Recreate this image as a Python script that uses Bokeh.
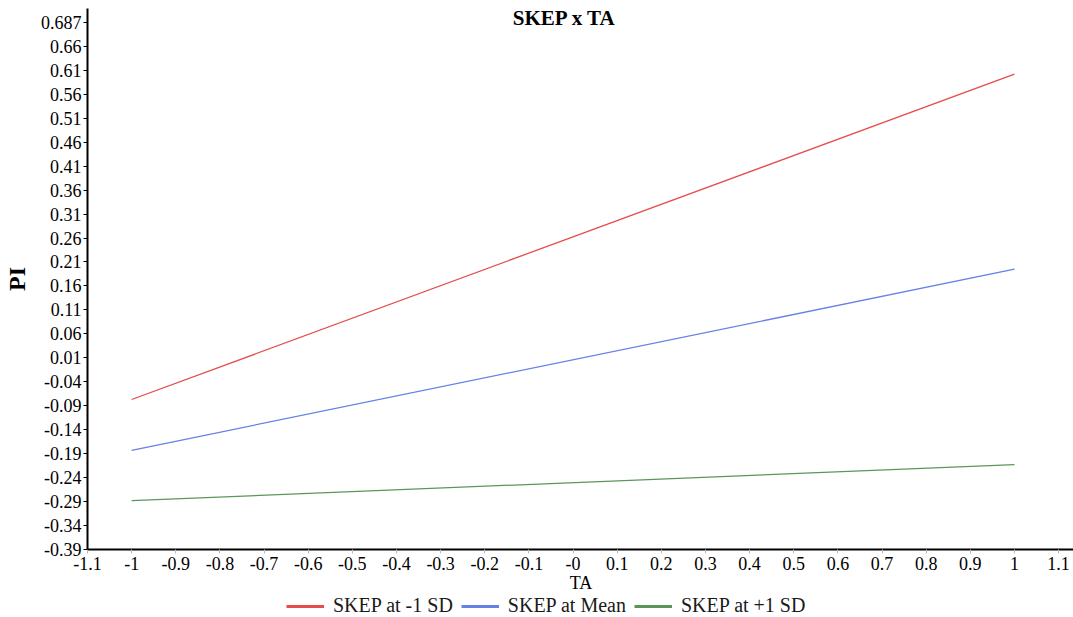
from bokeh.plotting import figure
from bokeh.layouts import column
from bokeh.models import FixedTicker, Range1d, Legend, LegendItem, Label
from bokeh.embed import file_html
from bokeh.resources import INLINE

# ---- data ----
ta = [-1.0, 1.0]
skep_low = [-0.077, 0.602]    # SKEP at -1 SD
skep_mean = [-0.183, 0.195]   # SKEP at Mean
skep_high = [-0.288, -0.213]  # SKEP at +1 SD

series_names = ["SKEP at -1 SD", "SKEP at Mean", "SKEP at +1 SD"]
series_colors = ["#e64c4c", "#6680e6", "#5a965a"]

x_ticks = [-1.1, -1.0, -0.9, -0.8, -0.7, -0.6, -0.5, -0.4, -0.3, -0.2, -0.1, 0.0,
           0.1, 0.2, 0.3, 0.4, 0.5, 0.6, 0.7, 0.8, 0.9, 1.0, 1.1]
x_tick_labels = ["-1.1", "-1", "-0.9", "-0.8", "-0.7", "-0.6", "-0.5", "-0.4", "-0.3", "-0.2",
                 "-0.1", "-0", "0.1", "0.2", "0.3", "0.4", "0.5", "0.6", "0.7", "0.8", "0.9",
                 "1", "1.1"]
# the top label (axis maximum 0.687) sits one even step above 0.66 in the source chart
y_ticks = [-0.39, -0.34, -0.29, -0.24, -0.19, -0.14, -0.09, -0.04, 0.01, 0.06, 0.11, 0.16,
           0.21, 0.26, 0.31, 0.36, 0.41, 0.46, 0.51, 0.56, 0.61, 0.66, 0.71]
y_tick_labels = ["-0.39", "-0.34", "-0.29", "-0.24", "-0.19", "-0.14", "-0.09", "-0.04", "0.01",
                 "0.06", "0.11", "0.16", "0.21", "0.26", "0.31", "0.36", "0.41", "0.46", "0.51",
                 "0.56", "0.61", "0.66", "0.687"]

FONT = "Liberation Serif"

p = figure(frame_width=987, frame_height=541, output_backend="svg", toolbar_location=None,
           x_range=Range1d(-1.1, 1.136), y_range=Range1d(-0.39, 0.739),
           min_border_left=86, min_border_right=0, min_border_top=8, min_border_bottom=0)
p.outline_line_color = None
p.xgrid.visible = False
p.ygrid.visible = False

series = [skep_low, skep_mean, skep_high]
for ys, c in zip(series, series_colors):
    p.line(ta, ys, line_color=c, line_width=1.3)

# axes
p.xaxis.ticker = FixedTicker(ticks=x_ticks)
p.xaxis.major_label_overrides = dict(zip(x_ticks, x_tick_labels))
p.yaxis.ticker = FixedTicker(ticks=y_ticks)
p.yaxis.major_label_overrides = dict(zip(y_ticks, y_tick_labels))
for ax in (p.xaxis, p.yaxis):
    ax.axis_line_color = "black"
    ax.axis_line_width = 2
    ax.major_label_text_font = FONT
    ax.major_label_text_font_size = "18px"
    ax.major_label_text_color = "black"
    ax.minor_tick_line_color = None
    ax.major_tick_in = 0
    ax.major_tick_out = 4
    ax.axis_label_text_font = FONT
    ax.axis_label_text_font_style = "normal"
    ax.axis_label_text_color = "black"
p.xaxis.major_tick_line_color = "#bbbbbb"
p.yaxis.major_tick_line_color = "black"
p.xaxis.major_label_standoff = 3
p.yaxis.major_label_standoff = 2
p.xaxis.major_label_text_line_height = 1.0
p.xaxis.axis_label = "TA"
p.xaxis.axis_label_text_font_size = "18px"
p.xaxis.axis_label_text_line_height = 1.0
p.xaxis.axis_label_standoff = 0
p.yaxis.axis_label = "PI"
p.yaxis.axis_label_text_font_size = "24px"
p.yaxis.axis_label_text_font_style = "bold"
p.yaxis.axis_label_standoff = 8

# title inside frame
title = Label(x=477, y=532, x_units="screen", y_units="screen", text="SKEP x TA",
              text_font=FONT, text_font_size="21px", text_font_style="bold",
              text_align="center", text_baseline="middle", text_color="black")
p.add_layout(title)

# legend strip below the chart (its lines lie outside its own view; only swatches show)
lg = figure(width=1073, height=24, output_backend="svg", toolbar_location=None,
            x_axis_type=None, y_axis_type=None, min_border=0,
            x_range=Range1d(-1.1, 1.136), y_range=Range1d(5, 6))
lg.outline_line_color = None
lg.xgrid.visible = False
lg.ygrid.visible = False
proxies = [lg.line(ta, ys, line_color=c, line_width=3) for ys, c in zip(series, series_colors)]

legend = Legend(items=[LegendItem(label=n, renderers=[r]) for n, r in zip(series_names, proxies)],
                orientation="horizontal", location=(199, 2))
legend.label_text_font = FONT
legend.label_text_font_size = "20px"
legend.label_text_color = "#1a1a1a"
legend.label_text_line_height = 1.0
legend.label_height = 18
legend.glyph_width = 38
legend.glyph_height = 18
legend.spacing = 8
legend.padding = 0
legend.margin = 0
legend.label_standoff = 9
legend.border_line_color = None
legend.background_fill_alpha = 0
lg.add_layout(legend)

layout = column(p, lg, spacing=0)
open("out.html", "w").write(file_html(layout, INLINE))
